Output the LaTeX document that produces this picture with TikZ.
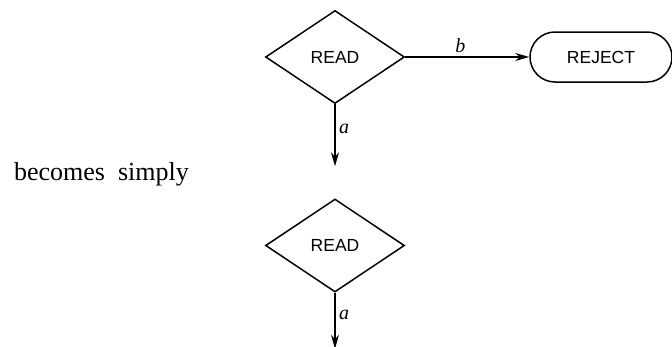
\documentclass[tikz,border=0pt]{standalone}
\usepackage{fontspec}
\setmainfont{Liberation Serif}
\setsansfont{Liberation Sans}
\usepackage{tikz}
\usetikzlibrary{arrows.meta,positioning,shapes.geometric}

\begin{document}
\begin{tikzpicture}[
  x=1pt,
  y=-1pt,
  line width=1.5pt,
  font=\fontsize{17.5}{20}\selectfont\sffamily,
  dec/.style={
    diamond,
    draw,
    minimum width=139pt,
    minimum height=93pt,
    inner sep=0pt
  },
  stop/.style={
    rectangle,
    draw,
    rounded corners=25pt,
    minimum height=50pt,
    minimum width=142pt,
    inner sep=0pt
  },
  lab/.style={
    font=\fontsize{20}{24}\selectfont\rmfamily\itshape
  },
  arr/.style={
    -{Stealth[length=14pt,width=8pt]}
  }
]
\useasboundingbox (0,0) rectangle (672,346);
\node[dec] (readtop) at (335,57) {READ};
\node[
  stop,
  right=124pt of readtop
] (reject)
{REJECT};
\coordinate[below=62pt of readtop.south] (outtop);
\node[
  dec,
  below=94pt of readtop
] (readbot)
{READ};
\coordinate[below=56pt of readbot.south] (outbot);
\draw[arr]
  (readtop) --
  node[above, lab, xshift=-7pt] {b}
  (reject);
\draw[arr]
  (readtop.south) --
  node[right, lab, pos=0.4] {a}
  (outtop);
\draw[arr]
  (readbot.south) --
  node[right, lab, pos=0.4] {a}
  (outbot);
\node[
  font=\fontsize{26}{30}\selectfont\rmfamily,
  anchor=base west
] (becomes) at (10,180)
{becomes\ \ simply};
\end{tikzpicture}
\end{document}
